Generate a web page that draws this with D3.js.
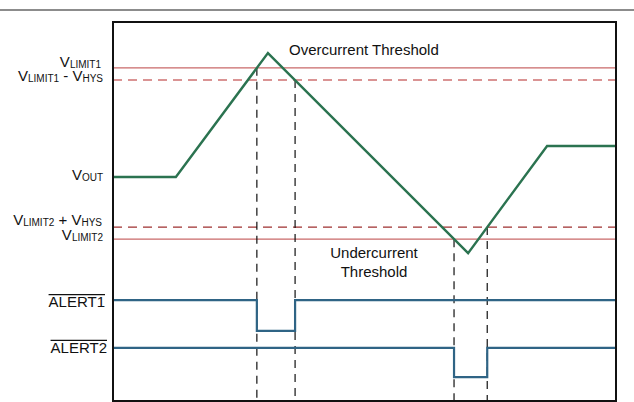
<!DOCTYPE html>
<html>
<head>
<meta charset="utf-8">
<script src="https://cdn.jsdelivr.net/npm/d3@7"></script>
<style>
  body { margin: 0; background: #fff; }
  text { font-family: "Liberation Sans", Arial, sans-serif; fill: #111; }
</style>
</head>
<body>
<div id="chart"></div>
<script>
// time axis runs 0..10, signal axis 0..10 (arbitrary units)
var voutT = [0, 1.25, 3.08, 7.06, 8.63, 10],
    voutV = [5.91, 5.91, 9.18, 3.90, 6.73, 6.73];

var vLimit1 = 8.79,
    vLimit1Hys = 8.47,
    vLimit2Hys = 4.59,
    vLimit2 = 4.27;

var alert1T = [0, 2.86, 3.62, 10],
    alert1V = [2.66, 1.85, 2.66, 2.66],
    alert2T = [0, 6.78, 7.44, 10],
    alert2V = [1.40, 0.63, 1.40, 1.40];

// trip / release instants and the threshold each one crosses
var eventT = [2.86, 3.62, 6.78, 7.44],
    eventV = [vLimit1, vLimit1Hys, vLimit2, vLimit2Hys];

var width = 634, height = 402,
    margin = { top: 22, right: 18, bottom: 1, left: 113 };

var svg = d3.select("#chart").append("svg")
    .attr("width", width)
    .attr("height", height);

var x = d3.scaleLinear().domain([0, 10]).range([margin.left, width - margin.right]);
var y = d3.scaleLinear().domain([0, 10]).range([height - margin.bottom, margin.top]);

// gray rule along the top
svg.append("line")
    .attr("x1", 0).attr("x2", width)
    .attr("y1", 10).attr("y2", 10)
    .attr("stroke", "#8c8c8c").attr("stroke-width", 2);

// threshold lines
var thresholds = [
    { v: vLimit1, dash: null, color: "#c96868" },
    { v: vLimit1Hys, dash: "9,6", color: "#b52a2a" },
    { v: vLimit2Hys, dash: "9,6", color: "#9e3030" },
    { v: vLimit2, dash: null, color: "#c96868" }
];
svg.selectAll(".thr")
    .data(thresholds)
    .enter().append("line")
    .attr("class", "thr")
    .attr("x1", x(0)).attr("x2", x(10))
    .attr("y1", function(d) { return y(d.v); })
    .attr("y2", function(d) { return y(d.v); })
    .attr("stroke", function(d) { return d.color; })
    .attr("stroke-width", 1.2)
    .attr("stroke-dasharray", function(d) { return d.dash; });

// vertical dashed markers
svg.selectAll(".evt")
    .data(eventT)
    .enter().append("line")
    .attr("class", "evt")
    .attr("x1", function(d) { return x(d); })
    .attr("x2", function(d) { return x(d); })
    .attr("y1", function(d, i) { return y(eventV[i]); })
    .attr("y2", y(0))
    .attr("stroke", "#111")
    .attr("stroke-width", 1.2)
    .attr("stroke-dasharray", "8,6");

var line = d3.line()
    .x(function(d) { return x(d[0]); })
    .y(function(d) { return y(d[1]); });

var stepLine = d3.line()
    .x(function(d) { return x(d[0]); })
    .y(function(d) { return y(d[1]); })
    .curve(d3.curveStepAfter);

svg.append("path")
    .datum(d3.zip(voutT, voutV))
    .attr("d", line)
    .attr("fill", "none")
    .attr("stroke", "#2b7350")
    .attr("stroke-width", 2.4);

[[alert1T, alert1V], [alert2T, alert2V]].forEach(function(s) {
    svg.append("path")
        .datum(d3.zip(s[0], s[1]))
        .attr("d", stepLine)
        .attr("fill", "none")
        .attr("stroke", "#2f6485")
        .attr("stroke-width", 2.2);
});

// frame
svg.append("rect")
    .attr("x", x(0)).attr("y", y(10))
    .attr("width", x(10) - x(0))
    .attr("height", y(0) - y(10))
    .attr("fill", "none")
    .attr("stroke", "#111")
    .attr("stroke-width", 2);

// left labels: [main, subscript] pieces
var labels = [
    { parts: [["V", 0], ["LIMIT1", 1]], v: vLimit1, dy: 0.5, xr: 101 },
    { parts: [["V", 0], ["LIMIT1", 1], [" - V", 0], ["HYS", 1]], v: vLimit1Hys, dy: 2, xr: 103 },
    { parts: [["V", 0], ["OUT", 1]], v: voutV[0], dy: 4, xr: 103 },
    { parts: [["V", 0], ["LIMIT2", 1], [" + V", 0], ["HYS", 1]], v: vLimit2Hys, dy: -1, xr: 102 },
    { parts: [["V", 0], ["LIMIT2", 1]], v: vLimit2, dy: 2, xr: 103 }
];

labels.forEach(function(l) {
    var t = svg.append("text")
        .attr("x", l.xr)
        .attr("y", y(l.v) + l.dy)
        .attr("text-anchor", "end")
        .style("font-size", "15px");
    l.parts.forEach(function(p) {
        t.append("tspan")
            .text(p[0])
            .style("font-size", p[1] ? "10px" : "15px")
            .attr("dy", p[1] ? 1 : -1);
    });
});

var alerts = [
    { name: "ALERT1", v: alert1V[0], dy: 7, xr: 105 },
    { name: "ALERT2", v: alert2V[0], dy: 5, xr: 107 }
];
alerts.forEach(function(a) {
    var t = svg.append("text")
        .attr("x", a.xr)
        .attr("y", y(a.v) + a.dy)
        .attr("text-anchor", "end")
        .style("font-size", "15px")
        .text(a.name);
    var w = t.node().getComputedTextLength();
    svg.append("line")
        .attr("x1", a.xr - w).attr("x2", a.xr)
        .attr("y1", y(a.v) + a.dy - 12.5).attr("y2", y(a.v) + a.dy - 12.5)
        .attr("stroke", "#111").attr("stroke-width", 1.3);
});

svg.append("text")
    .attr("x", 289).attr("y", 55)
    .style("font-size", "15px")
    .text("Overcurrent Threshold");

svg.append("text")
    .attr("x", 374).attr("y", 258)
    .attr("text-anchor", "middle")
    .style("font-size", "15px")
    .text("Undercurrent");
svg.append("text")
    .attr("x", 374).attr("y", 277)
    .attr("text-anchor", "middle")
    .style("font-size", "15px")
    .text("Threshold");
</script>
</body>
</html>
